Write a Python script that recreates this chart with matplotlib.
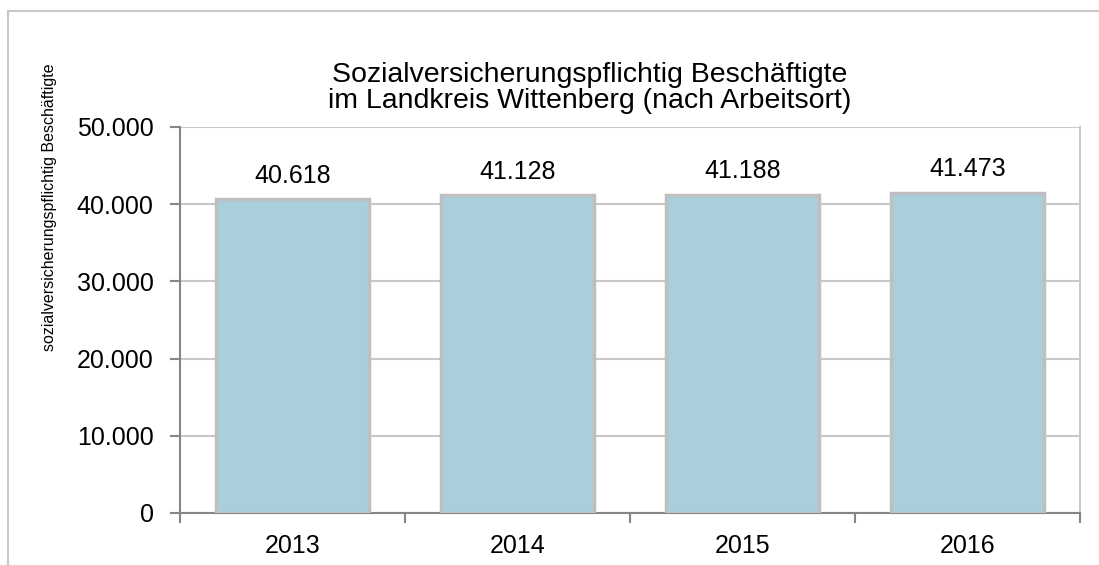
import numpy as np
import matplotlib.pyplot as plt
from matplotlib.patches import Rectangle

plt.rcParams['font.family'] = ['Liberation Sans', 'DejaVu Sans']

years = ['2013', '2014', '2015', '2016']
employees = [40618, 41128, 41188, 41473]
value_labels = ['40.618', '41.128', '41.188', '41.473']
yticks = [0, 10000, 20000, 30000, 40000, 50000]
ytick_labels = ['0', '10.000', '20.000', '30.000', '40.000', '50.000']

fig = plt.figure(figsize=(10.99, 5.65), dpi=100)
ax = fig.add_axes([180 / 1099, 1 - 513 / 565, 900 / 1099, 386 / 565])

# outer chart border (only top/left visible in the original)
fig.patches.append(Rectangle((8 / 1099, -0.1), 1.2, (565 - 11) / 565 + 0.1,
                             transform=fig.transFigure, fill=False,
                             edgecolor='#c8c8c8', linewidth=1.5))

x = np.arange(len(years))
ax.bar(x, employees, width=0.68, color='#a9cedc', edgecolor='#bfbfbf',
       linewidth=2.5, zorder=3)

for xi, v, lbl in zip(x, employees, value_labels):
    ax.annotate(lbl, (xi, v), xytext=(0, 17), textcoords='offset points',
                ha='center', va='center', fontsize=18)

ax.set_xlim(-0.5, 3.5)
ax.set_ylim(0, 50000)
ax.set_yticks(yticks)
ax.set_yticklabels(ytick_labels, fontsize=18)
ax.set_xticks(x)
ax.set_xticklabels(years, fontsize=18)
ax.set_xticks([-0.5, 0.5, 1.5, 2.5, 3.5], minor=True)
ax.tick_params(axis='x', which='major', length=0, pad=15)
ax.tick_params(axis='x', which='minor', length=7, color='#868686', width=1.5)
ax.tick_params(axis='y', length=7, color='#868686', width=1.5, pad=12)

ax.grid(axis='y', color='#c8c8c8', linewidth=1.5, zorder=0)
ax.set_axisbelow(True)
for s in ['top', 'right']:
    ax.spines[s].set_color('#c8c8c8')
    ax.spines[s].set_linewidth(1.5)
for s in ['left', 'bottom']:
    ax.spines[s].set_color('#868686')
    ax.spines[s].set_linewidth(1.5)
ax.spines['top'].set_visible(False)

ax.set_ylabel('sozialversicherungspflichtig Beschäftigte', fontsize=11.5)
ax.yaxis.set_label_coords((57 - 180) / 900, (513 - 207) / 386)

fig.text(590 / 1099, 1 - 75 / 565, 'Sozialversicherungspflichtig Beschäftigte',
         ha='center', va='center', fontsize=20.5)
fig.text(590 / 1099, 1 - 101 / 565, 'im Landkreis Wittenberg (nach Arbeitsort)',
         ha='center', va='center', fontsize=20.5)

fig.savefig('out.png', dpi=100)
